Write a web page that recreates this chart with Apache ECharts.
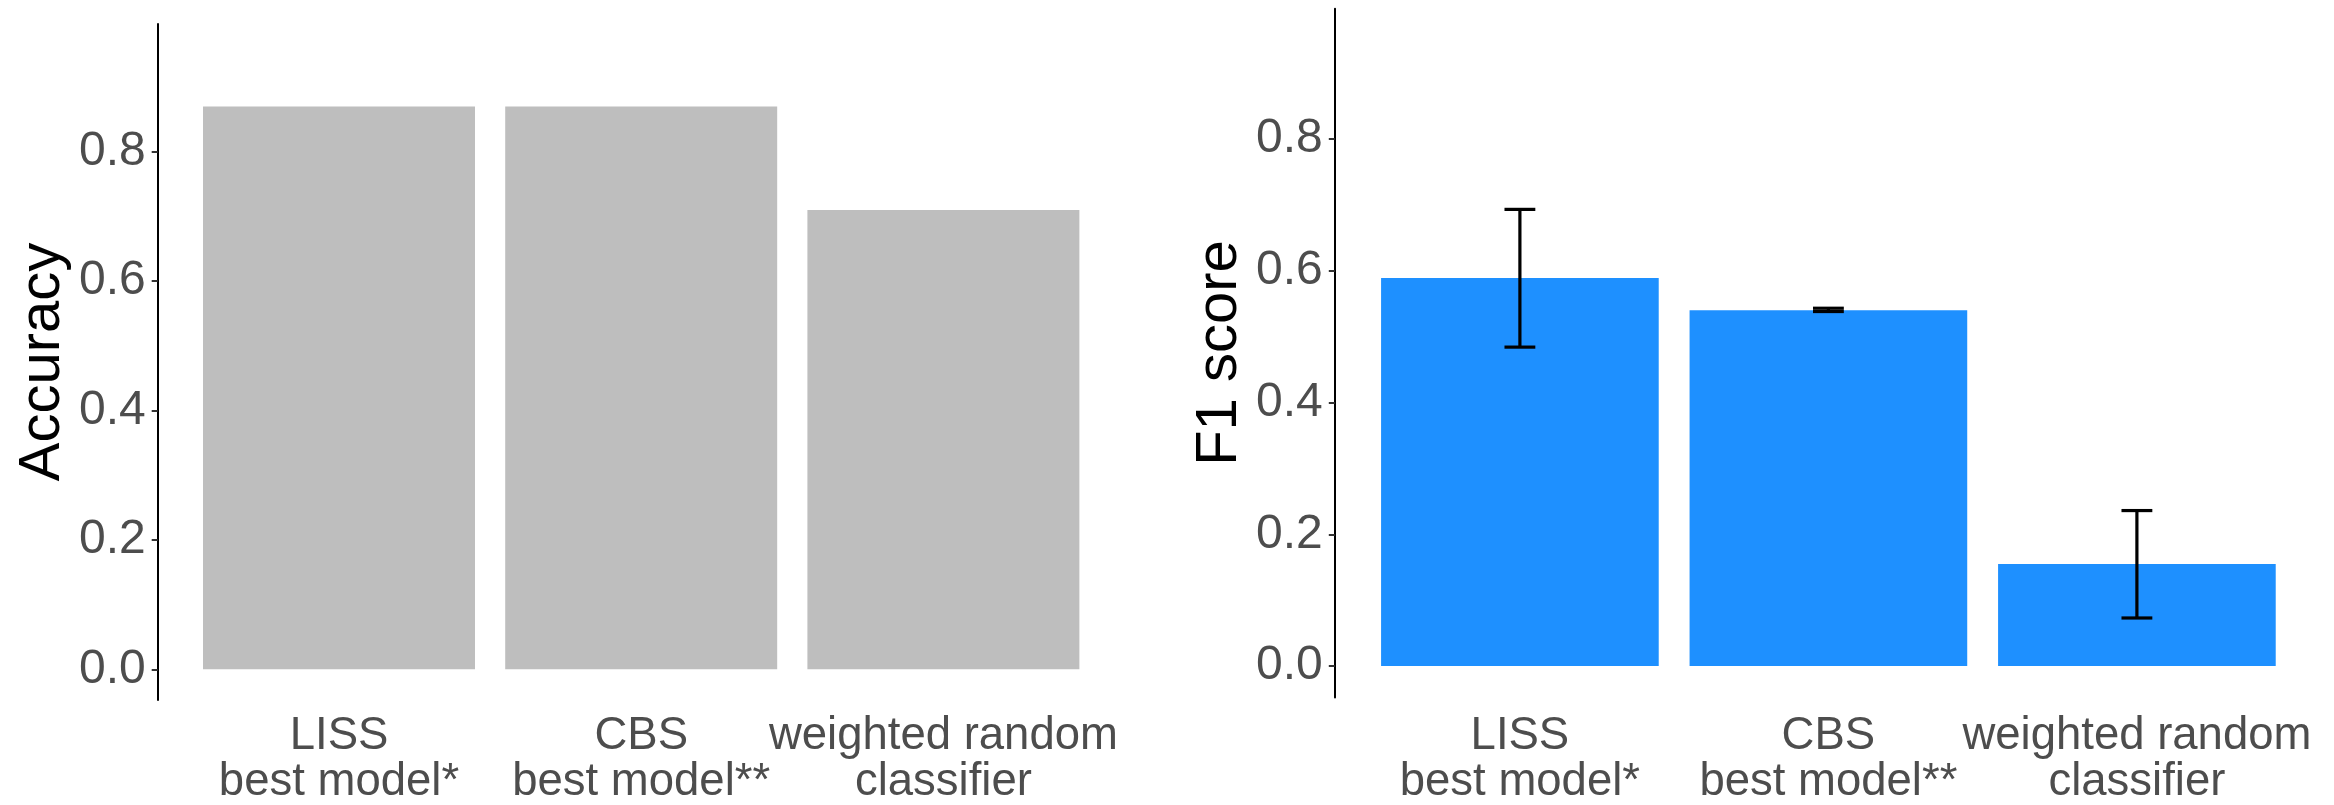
<!DOCTYPE html>
<html>
<head>
<meta charset="utf-8">
<script src="https://cdn.jsdelivr.net/npm/echarts@6/dist/echarts.min.js"></script>
<style>
  html, body { margin: 0; padding: 0; background: #ffffff; }
  #chart { width: 2334px; height: 805px; }
</style>
</head>
<body>
<div id="chart"></div>
<script>
// ---- data ----
const categories = ['LISS\nbest model*', 'CBS\nbest model**', 'weighted random\nclassifier'];
const accuracy = [0.87, 0.87, 0.71];
const f1 = [0.589, 0.54, 0.155];
const f1Low = [0.484, 0.538, 0.073];
const f1High = [0.693, 0.543, 0.236];
const yTicks = [0, 0.2, 0.4, 0.6, 0.8];
const yMin = -0.0475;
const yMax = 0.9975;

const FONT = '"Liberation Sans", Arial, Helvetica, sans-serif';
const TEXT_GREY = '#4D4D4D';

function yAxisCfg(gridIndex, name, offset) {
  return {
    type: 'value',
    gridIndex: gridIndex,
    min: yMin,
    max: yMax,
    offset: offset,
    name: name,
    nameLocation: 'middle',
    nameRotate: 90,
    nameGap: 86,
    nameTextStyle: { fontSize: 58, color: '#000000', fontFamily: FONT },
    axisLine: { show: true, lineStyle: { color: '#000000', width: 2 } },
    axisTick: { show: true, length: 6, customValues: yTicks, lineStyle: { color: '#333333', width: 2 } },
    axisLabel: {
      customValues: yTicks,
      formatter: function (v) { return v.toFixed(1); },
      fontSize: 48, color: TEXT_GREY, fontFamily: FONT, margin: 12
    },
    splitLine: { show: false }
  };
}

function xAxisCfg(gridIndex, margin) {
  return {
    type: 'category',
    gridIndex: gridIndex,
    data: categories,
    boundaryGap: true,
    axisLine: { show: false },
    axisTick: { show: false },
    axisLabel: {
      interval: 0,
      fontSize: 45.5, lineHeight: 46, color: TEXT_GREY, fontFamily: FONT, margin: margin,
      align: 'center'
    },
    splitLine: { show: false }
  };
}

const chart = echarts.init(document.getElementById('chart'), null, { renderer: 'canvas' });

chart.setOption({
  animation: false,
  backgroundColor: '#ffffff',
  grid: [
    { left: 187.9, width: 906.6, top: 24.1, height: 683.3, containLabel: false },
    { left: 1365.65, width: 925.5, top: 8.7, height: 696.1, containLabel: false }
  ],
  xAxis: [xAxisCfg(0, 13), xAxisCfg(1, 15.6)],
  yAxis: [yAxisCfg(0, 'Accuracy', 30.2), yAxisCfg(1, 'F1 score', 30.85)],
  series: [
    {
      type: 'bar', xAxisIndex: 0, yAxisIndex: 0,
      data: accuracy, barWidth: '90%',
      itemStyle: { color: '#BEBEBE' }
    },
    {
      type: 'bar', xAxisIndex: 1, yAxisIndex: 1,
      data: f1, barWidth: '90%',
      itemStyle: { color: '#1E90FF' }
    },
    {
      type: 'custom', xAxisIndex: 1, yAxisIndex: 1, z: 10,
      data: categories.map(function (c, i) { return [i, f1Low[i], f1High[i]]; }),
      encode: { x: 0, y: [1, 2] },
      renderItem: function (params, api) {
        const xi = api.value(0);
        const lo = api.coord([xi, api.value(1)]);
        const hi = api.coord([xi, api.value(2)]);
        const w = api.size([1, 0])[0] * 0.1;
        const st = { stroke: '#000000', lineWidth: 3.2, fill: null };
        return {
          type: 'group',
          children: [
            { type: 'line', shape: { x1: lo[0], y1: lo[1], x2: hi[0], y2: hi[1] }, style: st },
            { type: 'line', shape: { x1: lo[0] - w / 2, y1: lo[1], x2: lo[0] + w / 2, y2: lo[1] }, style: st },
            { type: 'line', shape: { x1: hi[0] - w / 2, y1: hi[1], x2: hi[0] + w / 2, y2: hi[1] }, style: st }
          ]
        };
      }
    }
  ]
});
</script>
</body>
</html>
